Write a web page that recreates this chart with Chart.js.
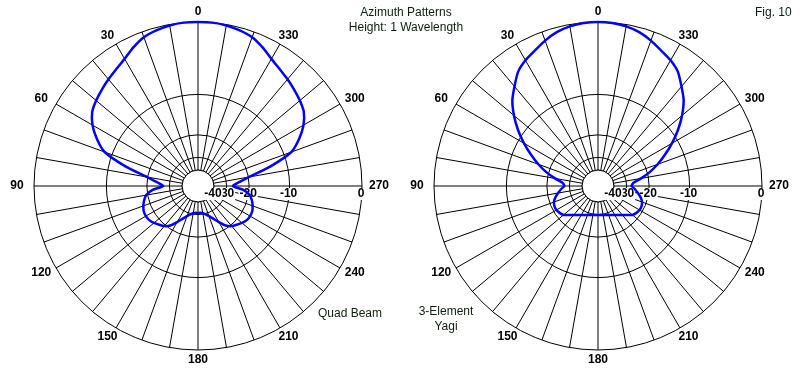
<!DOCTYPE html>
<html><head><meta charset="utf-8">
<script src="https://cdn.jsdelivr.net/npm/chart.js@4.4.1/dist/chart.umd.min.js"></script>
<style>
html,body{margin:0;padding:0;background:#fff;}
#wrap{position:relative;width:800px;height:370px;overflow:hidden;background:#fff;}
canvas{position:absolute;top:0;}
.t{position:absolute;font:12px "Liberation Sans",Arial,sans-serif;color:#0a200a;white-space:nowrap;text-align:center;line-height:15px;}
</style></head><body>
<div id="wrap">
<canvas id="c1" width="400" height="370" style="left:0"></canvas>
<canvas id="c2" width="400" height="370" style="left:400px"></canvas>
<div class="t" style="left:306px;top:5px;width:200px">Azimuth Patterns<br>Height: 1 Wavelength</div>
<div class="t" style="left:755px;top:5px;text-align:left">Fig. 10</div>
<div class="t" style="left:318px;top:306px;text-align:left">Quad Beam</div>
<div class="t" style="left:406px;top:304px;width:80px">3-Element<br>Yagi</div>
</div>
<script>
// azimuth (degrees, counter-clockwise from top)
const azimuths = [0,5,10,15,20,25,30,35,40,45,50,55,60,65,70,75,80,85,90,95,100,105,110,115,120,125,130,135,140,145,150,155,160,165,170,175,
  180,185,190,195,200,205,210,215,220,225,230,235,240,245,250,255,260,265,270,275,280,285,290,295,300,305,310,315,320,325,330,335,340,345,350,355];
// relative field strength, dB
const quadDb = [0,0,-0.1,-0.3,-0.6,-1.2,-1.9,-2.4,-2.8,-3.2,-3.6,-4.1,-5.1,-6.6,-8.6,-13.5,-19.7,-24,-26.5,-22,-19.5,-18.5,-17.8,-17.3,-17.2,-17.4,-18,-18.8,-19.6,-21,-23.5,-26,-28,-29.5,-30.5,-31,
  -31,-31,-30.5,-29.5,-28,-26,-23.5,-21,-19.6,-18.8,-18,-17.4,-17.2,-17.3,-17.8,-18.5,-19.5,-22,-26.5,-24,-19.7,-13.5,-8.6,-6.6,-5.1,-4.1,-3.6,-3.2,-2.8,-2.4,-1.9,-1.2,-0.6,-0.3,-0.1,0];
const yagiDb = [0,-0.05,-0.2,-0.5,-1.0,-1.6,-2.1,-2.8,-4.0,-5.2,-6.9,-8.9,-11.2,-13.7,-16.3,-19.2,-22.7,-26.3,-27.2,-25.5,-24,-22.5,-21.5,-21.1,-21.1,-21.5,-22.2,-23.8,-25.1,-26.3,-27.3,-28.1,-28.6,-29.1,-29.5,-29.7,
  -29.7,-29.7,-29.5,-29.1,-28.6,-28.1,-27.3,-26.3,-25.1,-23.8,-22.2,-21.5,-21.1,-21.1,-21.5,-22.5,-24,-25.5,-27.2,-26.3,-22.7,-19.2,-16.3,-13.7,-11.2,-8.9,-6.9,-5.2,-4.0,-2.8,-2.1,-1.6,-1.0,-0.5,-0.2,-0.05];
const ringDb = [-40,-30,-20,-10,0];
const ringLabels = ['-40','-30','-20','-10','0'];
const spokeLabels = ['0','30','60','90','120','150','180','210','240','270','300','330'];

// ARRL log-periodic radial scale: 0.89 per 2 dB
const toR = db => Math.pow(0.89, -db / 2);
const n = azimuths.length;
// Chart.js runs clockwise from the top; azimuth runs counter-clockwise
const chartAz = azimuths.map((_, i) => azimuths[(n - i) % n]);

function makeChart(id, dbs) {
  const decor = {
    id: 'decor',
    beforeDatasetsDraw(chart) {
      const s = chart.scales.r, ctx = chart.ctx;
      const hole = s.getDistanceFromCenterForValue(toR(ringDb[0]));
      ctx.save();
      ctx.beginPath();
      ctx.arc(s.xCenter, s.yCenter, hole, 0, 2 * Math.PI);
      ctx.fillStyle = '#fff'; ctx.fill();
      ctx.strokeStyle = '#000'; ctx.lineWidth = 1; ctx.stroke();
      ctx.font = 'bold 12px "Liberation Sans", Arial, sans-serif';
      ctx.textAlign = 'center'; ctx.textBaseline = 'middle';
      for (let k = ringDb.length - 1; k >= 0; k--) {
        const d = s.getDistanceFromCenterForValue(toR(ringDb[k]));
        const x = s.xCenter + d - 1, y = s.yCenter + 8;
        const w = ctx.measureText(ringLabels[k]).width;
        ctx.fillStyle = '#fff'; ctx.fillRect(x - w / 2 - 1, y - 6, w + 2, 12);
        ctx.fillStyle = '#000'; ctx.fillText(ringLabels[k], x, y);
      }
      const R = s.drawingArea;
      spokeLabels.forEach(lbl => {
        const az = parseInt(lbl, 10);
        const idx = chartAz.indexOf(az);
        const px = s.getPointPosition(idx, R + 17);
        const py = s.getPointPosition(idx, R + 10);
        ctx.fillStyle = '#000';
        ctx.fillText(lbl, px.x, py.y);
      });
      ctx.restore();
    }
  };
  return new Chart(document.getElementById(id), {
    type: 'radar',
    data: {
      labels: chartAz.map(String),
      datasets: [{
        data: chartAz.map(a => toR(dbs[azimuths.indexOf(a)])),
        borderColor: '#0000ff', borderWidth: 2.5, pointRadius: 0, pointHoverRadius: 0,
        fill: false, tension: 0.2
      }]
    },
    options: {
      responsive: false, animation: false, devicePixelRatio: 1,
      layout: { padding: { left: 34, right: 38, top: 22, bottom: 20 } },
      plugins: { legend: { display: false }, tooltip: { enabled: false } },
      scales: {
        r: {
          min: 0, max: 1, startAngle: 0,
          ticks: { display: false },
          afterBuildTicks: sc => { sc.ticks = [0].concat(ringDb.map(toR)).map(v => ({ value: v })); },
          grid: { circular: true, color: '#000', lineWidth: 1 },
          angleLines: { display: true, lineWidth: 1,
            color: c => (chartAz[c.index] % 10 === 0 ? '#000' : 'rgba(0,0,0,0)') },
          pointLabels: { display: false }
        }
      }
    },
    plugins: [decor]
  });
}
makeChart('c1', quadDb);
makeChart('c2', yagiDb);
</script>
</body></html>
